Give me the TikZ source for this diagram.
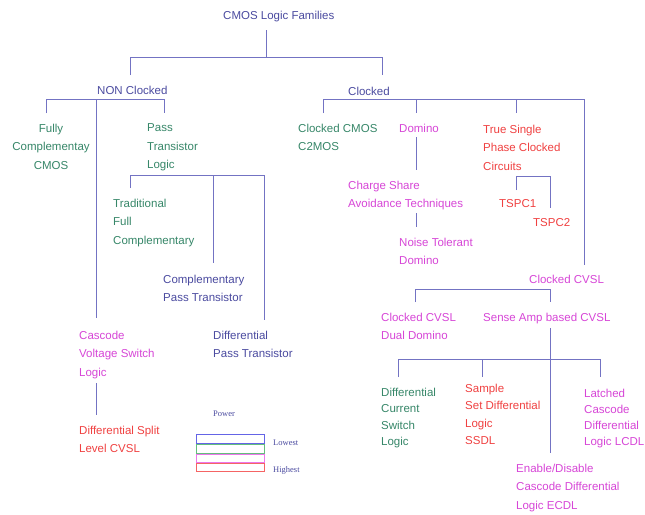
\documentclass[tikz,border=0pt]{standalone}
\usepackage{fontspec}
\newfontfamily\lab{Liberation Sans}
\newfontfamily\leg{Liberation Serif}
\definecolor{lineblue}{RGB}{115,115,195}
\definecolor{tblue}{RGB}{75,75,160}
\definecolor{tgreen}{RGB}{55,135,105}
\definecolor{tmag}{RGB}{215,70,215}
\definecolor{tred}{RGB}{240,65,65}
\definecolor{lgblue}{RGB}{100,100,230}
\definecolor{lggreen}{RGB}{100,190,125}
\definecolor{lgmag}{RGB}{235,120,235}
\definecolor{lgred}{RGB}{245,100,100}
\tikzset{
  lbl/.style={anchor=north west, align=left, inner sep=0pt, font=\lab\fontsize{11.5}{18.5}\selectfont},
  lblc/.style={anchor=north, align=center, inner sep=0pt, font=\lab\fontsize{11.5}{18.5}\selectfont},
  tight/.style={font=\lab\fontsize{11.5}{16.5}\selectfont},
  tree/.style={draw=lineblue, line width=1pt},
  legbox/.style={line width=0.7pt},
  legtext/.style={anchor=base west, inner sep=0pt, text=tblue, font=\leg\fontsize{8.5}{10}\selectfont},
}
\begin{document}
\begin{tikzpicture}[x=1pt,y=-1pt]
\useasboundingbox[fill=white] (0,0) rectangle (645,514);
% labels (positions are the top of the first line)
\node[lbl, text=tblue] (root) at (223,10.7) {CMOS Logic Families};
\node[lbl, text=tblue] (noncl) at (97,85.7) {NON Clocked};
\node[lbl, text=tblue] (clk) at (348,86.7) {Clocked};
\node[lblc, text=tgreen] (fcc) at (51,123.7) {Fully\\Complementay\\CMOS};
\node[lbl, text=tgreen] (ptl) at (147,123.7) {Pass\\Transistor\\Logic};
\node[lbl, text=tgreen] (tfc) at (113,198.7) {Traditional\\Full\\Complementary};
\node[lbl, text=tblue] (cpt) at (163,274.7) {Complementary\\Pass Transistor};
\node[lbl, text=tblue] (dpt) at (213,330.7) {Differential\\Pass Transistor};
\node[lbl, text=tmag] (cvsl) at (79,330.7) {Cascode\\Voltage Switch\\Logic};
\node[lbl, text=tred] (dsl) at (79,425.7) {Differential Split\\Level CVSL};
\node[lbl, text=tgreen] (ccmos) at (298,123.7) {Clocked CMOS\\C2MOS};
\node[lbl, text=tmag] (domino) at (399,123.7) {Domino};
\node[lbl, text=tmag] (csa) at (348,180.7) {Charge Share\\Avoidance Techniques};
\node[lbl, text=tmag] (ntd) at (399,237.7) {Noise Tolerant\\Domino};
\node[lbl, text=tred] (tspc) at (483,124.7) {True Single\\Phase Clocked\\Circuits};
\node[lbl, text=tred] (tspc1) at (499,199.7) {TSPC1};
\node[lbl, text=tred] (tspc2) at (533,218.7) {TSPC2};
\node[lbl, text=tmag] (ccvsl) at (529,274.7) {Clocked CVSL};
\node[lbl, text=tmag] (ccvsldd) at (381,312.7) {Clocked CVSL\\Dual Domino};
\node[lbl, text=tmag] (sacvsl) at (483,312.7) {Sense Amp based CVSL};
\node[lbl, tight, text=tgreen] (dcsl) at (381,387.7) {Differential\\Current\\Switch\\Logic};
\node[lbl, text=tred, font=\lab\fontsize{11.5}{17.5}\selectfont] (ssdl) at (465,383.7) {Sample\\Set Differential\\Logic\\SSDL};
\node[lbl, text=tmag, font=\lab\fontsize{11.5}{16}\selectfont] (lcdl) at (584,388.7) {Latched\\Cascode\\Differential\\Logic LCDL};
\node[lbl, text=tmag] (ecdl) at (516,463.7) {Enable/Disable\\Cascode Differential\\Logic ECDL};
% tree coordinates
\coordinate (r0) at (266,30);
\coordinate (r1) at (266,57);
\coordinate (rl) at (130,57);
\coordinate (rr) at (382,57);
\draw[tree] (r0) -- (r1);
\draw[tree] (130,75) -- (rl) -- (rr) -- (382,75);
% NON clocked
\draw[tree] (46,113) -- (46,99) -- (164,99) -- (164,113);
\draw[tree] (96,99) -- (96,318);
% pass transistor logic
\draw[tree] (130,188) -- (130,175) -- (264,175) -- (264,320);
\draw[tree] (213,175) -- (213,263);
% cascode
\draw[tree] (96,383) -- (96,415);
% clocked
\draw[tree] (323,113) -- (323,99) -- (584,99) -- (584,265);
\draw[tree] (416,99) -- (416,113);
\draw[tree] (516,99) -- (516,113);
% domino
\draw[tree] (416,137) -- (416,170);
\draw[tree] (416,213) -- (416,227);
% TSPC
\draw[tree] (516,190) -- (516,176) -- (550,176) -- (550,208);
% clocked CVSL
\draw[tree] (415,302) -- (415,289) -- (550,289) -- (550,302);
% sense amp
\draw[tree] (550,328) -- (550,453);
\draw[tree] (398,377) -- (398,359) -- (600,359) -- (600,377);
\draw[tree] (482,359) -- (482,377);
% legend
\node[legtext] (power) at (213,416) {Power};
\draw[legbox, lgblue] (196,434) rectangle (264,443);
\draw[legbox, lggreen] (196,444) rectangle (264,453);
\draw[legbox, lgmag] (196,454) rectangle (264,462);
\draw[legbox, lgred] (196,463) rectangle (264,471);
\node[legtext] (lowest) at (273,445) {Lowest};
\node[legtext] (highest) at (273,472) {Highest};
\end{tikzpicture}
\end{document}
